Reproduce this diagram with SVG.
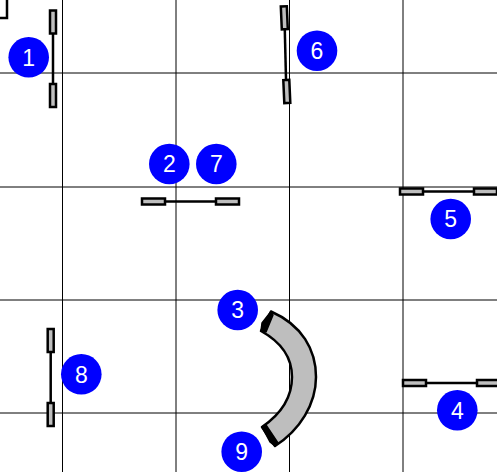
<svg xmlns="http://www.w3.org/2000/svg" width="497" height="472" viewBox="0 0 497 472">
<style>
.grid{stroke:#000;stroke-width:1;fill:none}
.bar{fill:#bebebe;stroke:#000;stroke-width:2.500}
.wire{stroke:#000;stroke-width:2.500;fill:none}
.cap{fill:#000;stroke:#000;stroke-width:1.500;stroke-linejoin:round}
.dot{fill:#0000ff}
.num{fill:#fff;font:23px "Liberation Sans",Arial,sans-serif;text-anchor:middle}
</style>
<rect width="497" height="472" fill="#fff"/>
<g id="grid" class="grid">
<path d="M62.500 0V472M176 0V472M289.500 0V472M403 0V472M0 73H497M0 187H497M0 300H497M0 413H497"/>
<path d="M0 18H7V0" stroke-width="2.500"/>
</g>
<g id="connectors">
<path class="wire" d="M53 34V83"/>
<path class="wire" d="M166 201.500H215"/>
<path class="wire" d="M424 191.500H473"/>
<path class="wire" d="M427 383H476"/>
<path class="wire" d="M284.800 30L286 79"/>
<path class="wire" d="M50.700 352V402"/>
</g>
<g id="element-a"><rect class="bar" x="50" y="10.500" width="6" height="23"/><rect class="bar" x="50" y="84" width="6" height="23"/></g>
<g id="element-b"><rect class="bar" x="142" y="198.500" width="23" height="6"/><rect class="bar" x="216" y="198.500" width="23" height="6"/></g>
<g id="element-c"><rect class="bar" x="400" y="188.500" width="23" height="6"/><rect class="bar" x="474" y="188.500" width="23" height="6"/></g>
<g id="element-d"><rect class="bar" x="403" y="380" width="23" height="6"/><rect class="bar" x="477" y="380" width="23" height="6"/></g>
<g id="element-e"><rect class="bar" x="-3" y="-11.500" width="6" height="23" transform="translate(284.300 17.800) rotate(-2.500)"/><rect class="bar" x="-3" y="-11.500" width="6" height="23" transform="translate(286.800 91.500) rotate(-2.500)"/></g>
<g id="element-f"><rect class="bar" x="47.700" y="329" width="6" height="23"/><rect class="bar" x="47.700" y="403" width="6" height="23"/></g>
<g id="bend">
<path d="M271 311.500C302 325 316 350 316 377C316 404 300 430 275 446L262 427C281 414 292 398 292 377C292 358 281 342 261 331Z" fill="#bebebe" stroke="#000" stroke-width="2.500" stroke-linejoin="round"/>
<path class="cap" d="M271 311.500L273 315L266 332L261 331L262 323Z"/>
<path class="cap" d="M262 427L266 425L278 443L275 446L270 442Z"/>
</g>
<g id="badge-1"><circle class="dot" cx="28.700" cy="57.300" r="20.300"/><text class="num" x="28.700" y="65.500">1</text></g>
<g id="badge-2"><circle class="dot" cx="169.300" cy="164" r="20.300"/><text class="num" x="169.300" y="172">2</text></g>
<g id="badge-7"><circle class="dot" cx="216.300" cy="164" r="20.300"/><text class="num" x="216.300" y="172">7</text></g>
<g id="badge-5"><circle class="dot" cx="450.700" cy="219" r="20.300"/><text class="num" x="450.700" y="227">5</text></g>
<g id="badge-6"><circle class="dot" cx="317" cy="50.700" r="20.300"/><text class="num" x="317" y="59">6</text></g>
<g id="badge-8"><circle class="dot" cx="81.300" cy="374.300" r="20.300"/><text class="num" x="81.300" y="382.500">8</text></g>
<g id="badge-4"><circle class="dot" cx="457.300" cy="410.300" r="20.300"/><text class="num" x="457.300" y="418.500">4</text></g>
<g id="badge-3"><circle class="dot" cx="237.700" cy="310" r="20.300"/><text class="num" x="237.700" y="318">3</text></g>
<g id="badge-9"><circle class="dot" cx="241.700" cy="451.700" r="20.300"/><text class="num" x="241.700" y="460">9</text></g>
</svg>
